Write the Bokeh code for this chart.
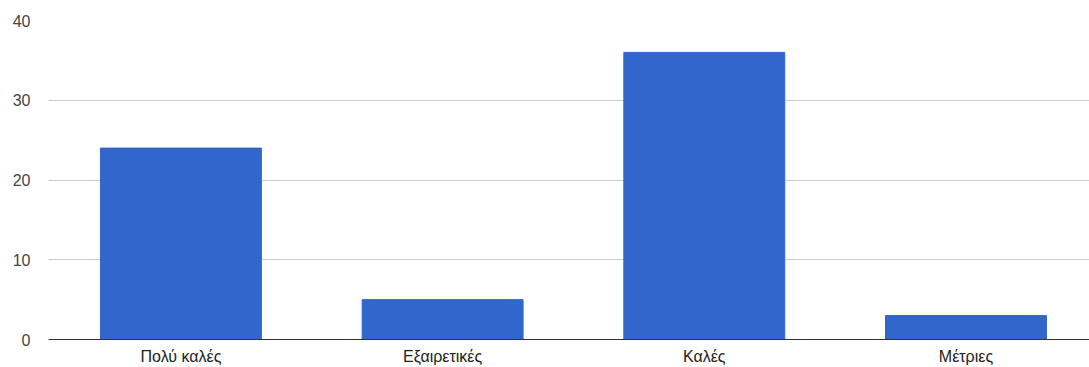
from bokeh.plotting import figure
from bokeh.models import ColumnDataSource, Range1d, FixedTicker
from bokeh.embed import file_html
from bokeh.resources import INLINE

categories = ["Πολύ καλές", "Εξαιρετικές", "Καλές", "Μέτριες"]
counts = [24, 5, 36, 3]
y_ticks = [0, 10, 20, 30, 40]

positions = list(range(len(categories)))
source = ColumnDataSource(dict(x=positions, cat=categories, val=counts))

p = figure(x_range=Range1d(-0.506, 3.472), y_range=Range1d(0, 40), width=1089, height=367,
           output_backend="svg", toolbar_location=None,
           min_border_left=48, min_border_right=0, min_border_top=20, min_border_bottom=27)
p.vbar(x="x", top="val", width=0.615, source=source, color="#3366cc")

p.outline_line_color = None
p.background_fill_color = "white"
p.border_fill_color = "white"

p.yaxis.ticker = FixedTicker(ticks=y_ticks)
p.yaxis.axis_line_color = None
p.yaxis.major_tick_line_color = None
p.yaxis.major_tick_out = 0
p.yaxis.major_tick_in = 0
p.yaxis.minor_tick_line_color = None
p.yaxis.major_label_text_font = "Liberation Sans"
p.yaxis.major_label_text_font_size = "16px"
p.yaxis.major_label_text_color = "#444444"
p.yaxis.major_label_standoff = 18

p.xaxis.ticker = FixedTicker(ticks=positions)
p.xaxis.major_label_overrides = {i: c for i, c in zip(positions, categories)}
p.xaxis.axis_line_color = "#333333"
p.xaxis.axis_line_width = 1
p.xaxis.major_tick_line_color = None
p.xaxis.major_tick_out = 0
p.xaxis.major_tick_in = 0
p.xaxis.minor_tick_line_color = None
p.xaxis.major_label_text_font = "Liberation Sans"
p.xaxis.major_label_text_font_size = "16px"
p.xaxis.major_label_text_color = "#222222"
p.xaxis.major_label_standoff = 8

p.xgrid.grid_line_color = None
p.ygrid.grid_line_color = "#cccccc"
p.ygrid.grid_line_width = 1

open("out.html", "w").write(file_html(p, INLINE))
